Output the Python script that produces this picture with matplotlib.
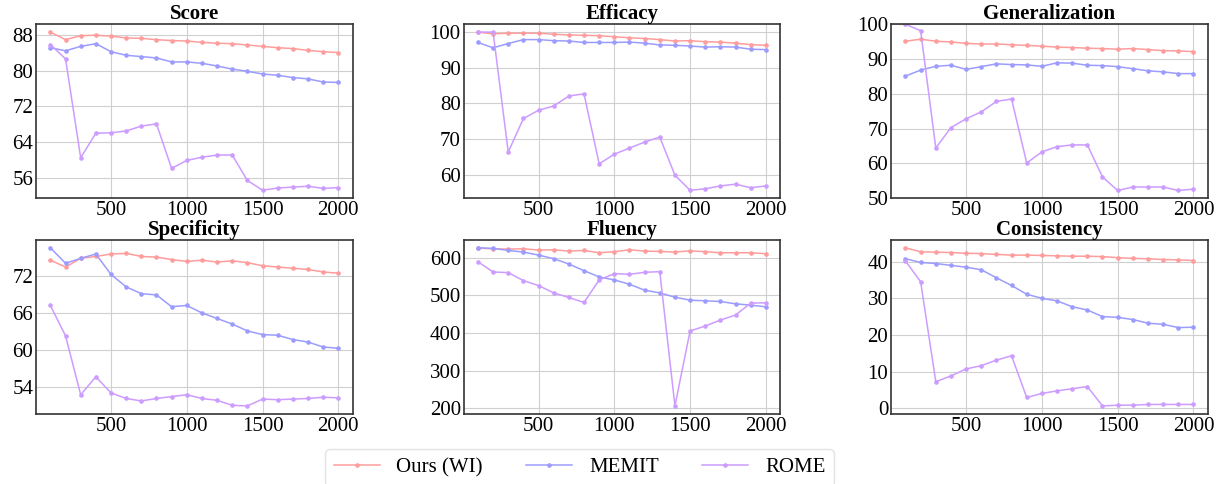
import matplotlib.pyplot as plt

plt.rcParams['font.family'] = ['Liberation Serif', 'DejaVu Serif']
plt.rcParams['font.size'] = 15

steps = list(range(100, 2001, 100))

score_ours = [88.7, 87.0, 87.9, 88.0, 87.8, 87.4, 87.3, 87.0, 86.8, 86.7, 86.4, 86.2, 86.1, 85.8, 85.5, 85.2, 85.0, 84.6, 84.3, 84.1]
score_memit = [85.2, 84.5, 85.5, 86.1, 84.3, 83.5, 83.2, 82.9, 82.0, 82.0, 81.7, 81.1, 80.4, 79.9, 79.3, 79.0, 78.5, 78.2, 77.5, 77.4]
score_rome = [85.9, 82.7, 60.5, 66.0, 66.1, 66.5, 67.6, 68.1, 58.1, 59.9, 60.6, 61.1, 61.1, 55.4, 53.2, 53.7, 53.9, 54.1, 53.6, 53.8]

eff_ours = [100.0, 99.5, 99.7, 99.7, 99.7, 99.4, 99.2, 99.1, 99.0, 98.7, 98.4, 98.2, 97.9, 97.5, 97.6, 97.3, 97.2, 96.9, 96.5, 96.3]
eff_memit = [97.1, 95.6, 96.8, 97.9, 97.9, 97.6, 97.5, 97.1, 97.1, 97.1, 97.2, 96.9, 96.4, 96.3, 96.1, 95.8, 95.9, 95.8, 95.2, 95.1]
eff_rome = [100.0, 100.0, 66.4, 75.8, 78.1, 79.3, 82.1, 82.7, 63.1, 65.8, 67.5, 69.2, 70.6, 59.9, 55.7, 56.1, 56.9, 57.4, 56.4, 56.9]

gen_ours = [95.1, 95.7, 95.1, 94.9, 94.5, 94.3, 94.3, 94.1, 93.9, 93.7, 93.4, 93.3, 93.1, 93.0, 92.8, 93.0, 92.7, 92.4, 92.3, 92.1]
gen_memit = [85.1, 86.8, 87.9, 88.2, 87.0, 87.8, 88.6, 88.4, 88.3, 87.9, 88.9, 88.8, 88.2, 88.1, 87.8, 87.2, 86.6, 86.3, 85.8, 85.8]
gen_rome = [100.0, 98.1, 64.4, 70.3, 72.8, 74.8, 77.8, 78.5, 60.1, 63.3, 64.8, 65.3, 65.3, 56.1, 52.2, 53.2, 53.2, 53.2, 52.2, 52.6]

spec_ours = [74.5, 73.4, 74.8, 75.1, 75.5, 75.6, 75.1, 75.0, 74.6, 74.3, 74.5, 74.2, 74.4, 74.1, 73.6, 73.4, 73.2, 73.0, 72.6, 72.4]
spec_memit = [76.5, 74.0, 74.8, 75.5, 72.2, 70.2, 69.1, 68.9, 67.0, 67.2, 66.0, 65.1, 64.2, 63.1, 62.5, 62.4, 61.7, 61.3, 60.5, 60.3]
spec_rome = [67.2, 62.3, 52.8, 55.7, 53.1, 52.2, 51.8, 52.2, 52.5, 52.8, 52.2, 51.9, 51.1, 51.0, 52.1, 52.0, 52.1, 52.2, 52.4, 52.3]

flu_ours = [625.6, 623.8, 622.9, 623.8, 620.3, 621.1, 617.6, 619.4, 613.2, 615.9, 621.1, 617.6, 616.7, 615.0, 618.5, 615.9, 613.2, 613.2, 613.2, 610.6]
flu_memit = [626.4, 624.7, 619.4, 615.0, 607.0, 597.4, 583.3, 565.6, 548.9, 541.0, 529.5, 513.7, 506.6, 495.1, 487.2, 485.5, 483.7, 477.5, 474.0, 469.6]
flu_rome = [589.4, 562.1, 560.4, 539.2, 526.0, 506.6, 494.3, 481.1, 541.0, 557.7, 556.0, 561.2, 563.0, 206.2, 405.3, 418.5, 434.4, 447.6, 479.3, 480.2]

con_ours = [43.8, 42.7, 42.6, 42.5, 42.3, 42.2, 42.0, 41.8, 41.8, 41.7, 41.6, 41.5, 41.5, 41.4, 41.1, 40.9, 40.8, 40.6, 40.5, 40.3]
con_memit = [40.8, 39.8, 39.5, 39.0, 38.5, 37.8, 35.6, 33.5, 31.1, 30.0, 29.3, 27.7, 26.8, 25.0, 24.8, 24.2, 23.2, 22.9, 22.0, 22.1]
con_rome = [40.2, 34.5, 7.2, 8.8, 10.7, 11.6, 13.1, 14.3, 2.9, 4.0, 4.7, 5.3, 5.9, 0.6, 0.8, 0.8, 1.0, 1.0, 1.0, 1.0]

panels = [
    ("Score", score_ours, score_memit, score_rome, [56, 64, 72, 80, 88]),
    ("Efficacy", eff_ours, eff_memit, eff_rome, [60, 70, 80, 90, 100]),
    ("Generalization", gen_ours, gen_memit, gen_rome, [50, 60, 70, 80, 90, 100]),
    ("Specificity", spec_ours, spec_memit, spec_rome, [54, 60, 66, 72]),
    ("Fluency", flu_ours, flu_memit, flu_rome, [200, 300, 400, 500, 600]),
    ("Consistency", con_ours, con_memit, con_rome, [0, 10, 20, 30, 40]),
]

names = ["Ours (WI)", "MEMIT", "ROME"]
colors = ['#ff9c9c', '#9c9cff', '#cc9cff']

fig, axes = plt.subplots(2, 3, figsize=(12.2, 4.84), dpi=100)
fig.subplots_adjust(left=0.0295, right=0.990, top=0.950, bottom=0.145, wspace=0.35, hspace=0.24)

for ax, (title, ours, memit, rome, yt) in zip(axes.flat, panels):
    for vals, c, n in zip([ours, memit, rome], colors, names):
        ax.plot(steps, vals, color=c, marker='o', markersize=2.3, linewidth=1.1, label=n)
    ax.set_title(title, fontweight='bold', fontsize=15, pad=2)
    ax.set_yticks(yt)
    ax.set_xticks([500, 1000, 1500, 2000])
    ax.grid(True, color='#d0d0d0', linewidth=0.8)
    ax.set_axisbelow(True)
    ax.tick_params(length=0, pad=2, labelsize=15)
    for s in ax.spines.values():
        s.set_color('#333333')
        s.set_linewidth(1.2)
    if title == "Generalization":
        ax.set_ylim(50, 100)

handles, labels = axes[0, 0].get_legend_handles_labels()
fig.legend(handles, labels, loc='upper center', bbox_to_anchor=(0.475, 0.093), ncol=3,
           fontsize=15, handlelength=2.2, handletextpad=0.8, columnspacing=2.1,
           frameon=True, edgecolor='#dddddd', borderpad=0.4)

plt.savefig('out.png')
